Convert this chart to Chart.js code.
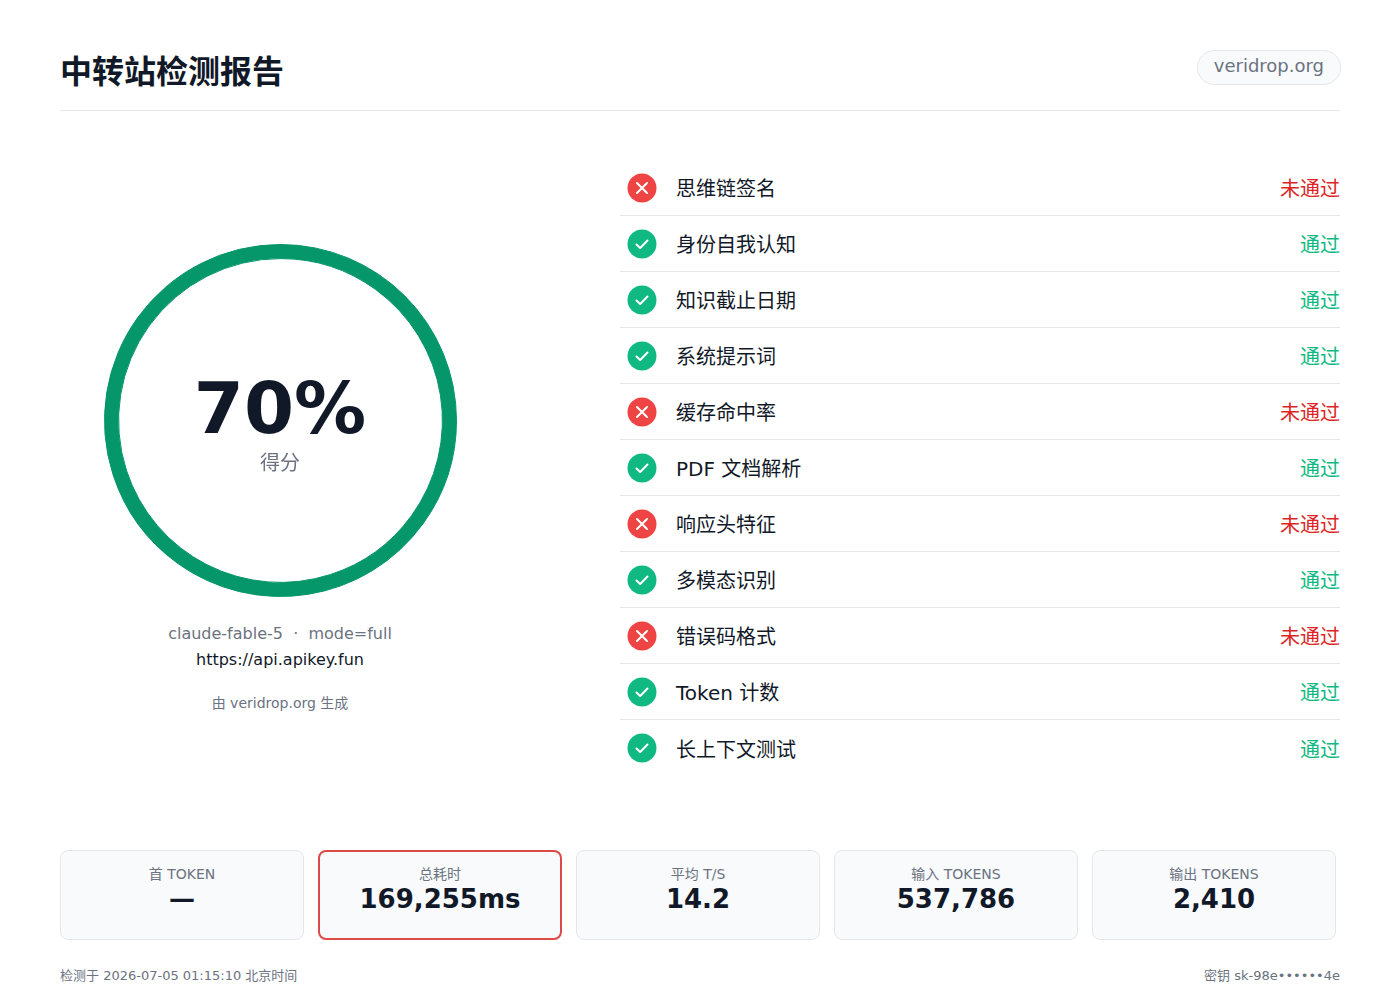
<!DOCTYPE html>
<html lang="zh-CN">
<head>
<meta charset="utf-8">
<title>中转站检测报告</title>
<script src="https://cdn.jsdelivr.net/npm/chart.js@4/dist/chart.umd.min.js"></script>
<style>
  * { box-sizing: border-box; }
  html, body { margin: 0; padding: 0; background: #fff; }
  body {
    width: 1400px; height: 1000px; position: relative; overflow: hidden;
    font-family: "DejaVu Sans", "Noto Sans CJK SC", sans-serif; color: #111827;
  }
  .title { position: absolute; left: 60px; top: 50px; font-size: 32px; font-weight: 600; line-height: 44px; margin: 0; }
  .pill {
    position: absolute; right: 59px; top: 50px; height: 35px; padding: 0 16px;
    border: 1px solid #e5e7eb; border-radius: 18px; background: #f8fafc;
    font-size: 18px; line-height: 30px; color: #6b7280;
  }
  .rule { position: absolute; left: 60px; top: 110px; width: 1280px; height: 1px; background: #e5e7eb; }

  #gauge { position: absolute; left: 104px; top: 244px; width: 353px; height: 353px; }
  .center { position: absolute; left: 60px; width: 440px; text-align: center; }
  .pct { top: 368px; font-size: 72px; font-weight: 700; line-height: 80px; color: #111827; }
  .sub { top: 450px; font-size: 20px; line-height: 26px; color: #6b7280; }
  .model { top: 624px; font-size: 16px; line-height: 20px; color: #6b7280; }
  .url { top: 650px; font-size: 16px; line-height: 20px; color: #111827; }
  .by { top: 694px; font-size: 14px; line-height: 18px; color: #6b7280; }

  #checks { position: absolute; left: 620px; top: 160px; width: 720px; margin: 0; padding: 0; list-style: none; }
  #checks li {
    height: 56px; display: flex; align-items: center; border-bottom: 1px solid #e5e7eb;
    font-size: 20px;
  }
  #checks li:last-child { border-bottom: none; }
  #checks svg { margin-left: 7px; margin-right: 19px; flex: none; }
  #checks .name { flex: 1; }
  #checks .state { text-align: right; }
  .ok { color: #10b981; }
  .bad { color: #dc2626; }

  #stats { position: absolute; left: 60px; top: 850px; width: 1276px; display: grid; grid-template-columns: repeat(5, 1fr); gap: 14px; }
  .card {
    height: 90px; border: 1px solid #e5e7eb; border-radius: 8px; background: #f8fafc;
    text-align: center; padding-top: 14px;
  }
  .card.alert { border: 2px solid #dc4a4a; padding-top: 13px; }
  .card .lbl { font-size: 14px; line-height: 18px; color: #6b7280; }
  .card .val { font-size: 26px; font-weight: 700; line-height: 32px; color: #111827; }
  .foot { position: absolute; top: 967px; font-size: 13px; line-height: 18px; color: #6b7280; }
</style>
</head>
<body>
<h1 class="title">中转站检测报告</h1>
<div class="pill">veridrop.org</div>
<div class="rule"></div>

<div id="gauge"><canvas id="gaugeChart"></canvas></div>
<div class="center pct" id="pct"></div>
<div class="center sub">得分</div>
<div class="center model">claude-fable-5 &nbsp;·&nbsp; mode=full</div>
<div class="center url">https://api.apikey.fun</div>
<div class="center by">由 veridrop.org 生成</div>

<ul id="checks"></ul>
<div id="stats"></div>

<div class="foot" style="left:60px">检测于 2026-07-05 01:15:10 北京时间</div>
<div class="foot" style="right:60px">密钥 sk-98e••••••4e</div>

<script>
const score = 70;
const ringColor = "#059669";

const checkNames = [
    "思维链签名", "身份自我认知", "知识截止日期", "系统提示词", "缓存命中率", "PDF 文档解析",
    "响应头特征", "多模态识别", "错误码格式", "Token 计数", "长上下文测试"
];
const checkPassed = [false, true, true, true, false, true, false, true, false, true, true];

const statLabels = ["首 TOKEN", "总耗时", "平均 T/S", "输入 TOKENS", "输出 TOKENS"];
const statValues = ["—", "169,255ms", "14.2", "537,786", "2,410"];
const statAlert = [false, true, false, false, false];

// gauge ring
document.getElementById("pct").textContent = score + "%";
const ctx = document.getElementById("gaugeChart").getContext("2d");
new Chart(ctx, {
    type: "doughnut",
    data: {
        labels: ["得分", "剩余"],
        datasets: [{
            data: [score, 100 - score],
            backgroundColor: [ringColor, ringColor],
            borderColor: ringColor,
            borderWidth: 1
        }]
    },
    options: {
        responsive: true,
        maintainAspectRatio: false,
        animation: false,
        cutout: "92%",
        plugins: { legend: { display: false }, tooltip: { enabled: false } }
    }
});

// check list
const okIcon = '<svg width="30" height="30" viewBox="0 0 30 30"><circle cx="15" cy="15" r="14.5" fill="#10b981"/>' +
    '<path d="M9.5 15.5 L13.2 19 L20.5 11.5" stroke="#fff" stroke-width="2" fill="none" stroke-linecap="round" stroke-linejoin="round"/></svg>';
const badIcon = '<svg width="30" height="30" viewBox="0 0 30 30"><circle cx="15" cy="15" r="14.5" fill="#ef4444"/>' +
    '<path d="M10 10 L20 20 M20 10 L10 20" stroke="#fff" stroke-width="2" stroke-linecap="round"/></svg>';

const list = document.getElementById("checks");
checkNames.forEach((name, i) => {
    const li = document.createElement("li");
    const pass = checkPassed[i];
    li.innerHTML = (pass ? okIcon : badIcon) +
        '<span class="name">' + name + '</span>' +
        '<span class="state ' + (pass ? "ok" : "bad") + '">' + (pass ? "通过" : "未通过") + '</span>';
    list.appendChild(li);
});

// stat cards
const stats = document.getElementById("stats");
statLabels.forEach((label, i) => {
    const card = document.createElement("div");
    card.className = "card" + (statAlert[i] ? " alert" : "");
    card.innerHTML = '<div class="lbl">' + label + '</div><div class="val">' + statValues[i] + '</div>';
    stats.appendChild(card);
});
</script>
</body>
</html>
